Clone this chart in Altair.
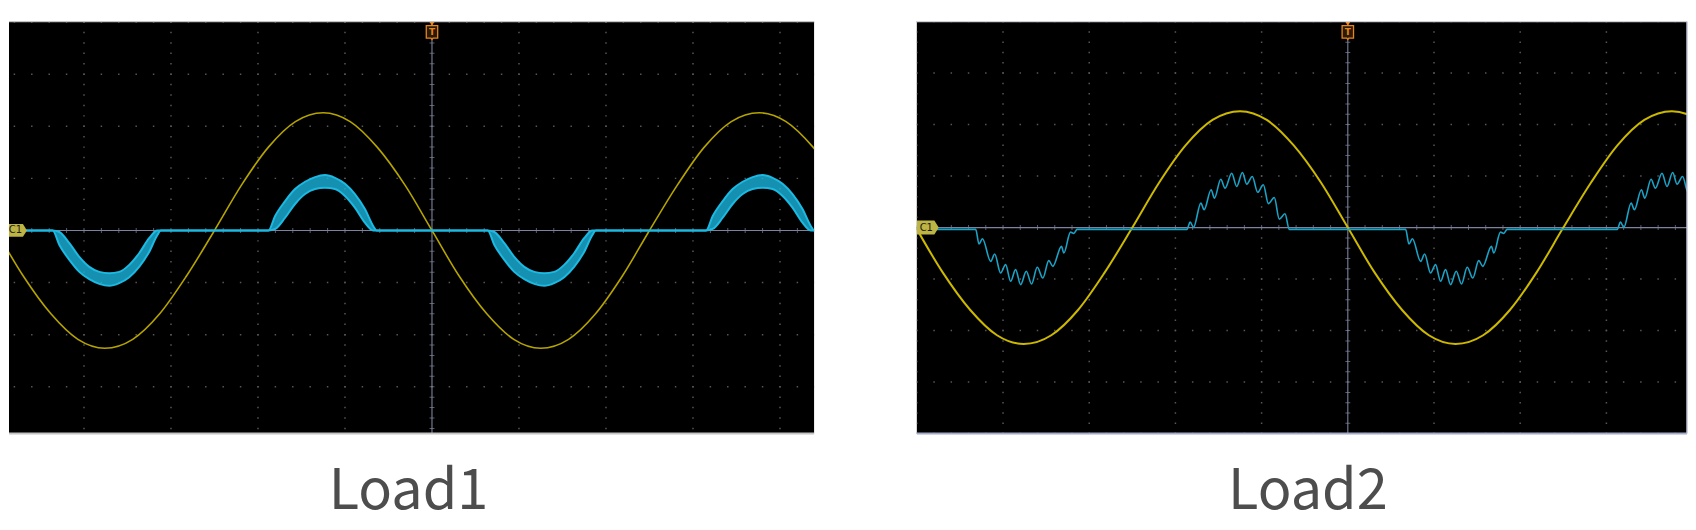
import altair as alt
import pandas as pd

# ---------------- values (units: screen divisions) ----------------
# yellow voltage trace (same timebase in both captures); x = divisions from trigger
yellow_x = [-5.01, -4.70, -4.38, -4.07, -3.76, -3.44, -3.13, -2.82, -2.50, -2.19, -1.88,
            -1.57, -1.25, -0.94, -0.63, -0.31, 0.0, 0.31, 0.63, 0.94, 1.25, 1.57, 1.88,
            2.19, 2.50, 2.82, 3.13, 3.44, 3.76, 4.07, 4.38, 4.70]
yellow_y = [0.0, -0.87, -1.60, -2.09, -2.26, -2.09, -1.60, -0.87, 0.0, 0.87, 1.60, 2.09,
            2.26, 2.09, 1.60, 0.87, 0.0, -0.87, -1.60, -2.09, -2.26, -2.09, -1.60, -0.87,
            0.0, 0.87, 1.60, 2.09, 2.26, 2.09, 1.60, 0.87]

# Load1 current: dense ripple band, upper / lower envelope of one pulse
load1_pulse_off = [0.0, 0.077, 0.192, 0.306, 0.421, 0.536, 0.650, 0.765, 0.880, 0.994, 1.109, 1.204, 1.243]
load1_pulse_hi = [0.0, 0.278, 0.565, 0.795, 0.935, 1.025, 1.063, 1.011, 0.897, 0.699, 0.412, 0.086, 0.0]
load1_pulse_lo = [0.0, 0.029, 0.245, 0.508, 0.699, 0.795, 0.820, 0.795, 0.661, 0.437, 0.149, 0.0, 0.0]
load1_pulse_start = [-4.36, -1.88, 0.64, 3.15]
load1_pulse_sign = [-1, 1, -1, 1]

# Load2 current: resolved ripple (peaks and troughs) of a positive and a negative pulse
load2_pos_off = [0.000, 0.038, 0.077, 0.162, 0.200, 0.281, 0.320, 0.393, 0.443, 0.520, 0.578,
                 0.644, 0.694, 0.759, 0.821, 0.887, 0.945, 1.014, 1.072, 1.138, 1.188]
load2_pos_val = [0.0, 0.142, 0.039, 0.510, 0.382, 0.769, 0.607, 0.975, 0.801, 1.091, 0.834,
                 1.105, 0.879, 1.027, 0.720, 0.866, 0.500, 0.620, 0.200, 0.304, 0.0]
load2_neg_off = [0.000, 0.038, 0.078, 0.174, 0.220, 0.289, 0.347, 0.405, 0.463, 0.521, 0.587,
                 0.648, 0.714, 0.779, 0.848, 0.895, 0.995, 1.022, 1.100, 1.138, 1.177]
load2_neg_val = [0.0, -0.284, -0.181, -0.620, -0.478, -0.846, -0.684, -1.007, -0.781, -1.072,
                 -0.814, -1.060, -0.736, -0.944, -0.607, -0.717, -0.329, -0.459, -0.052, -0.077, 0.0]
load2_pulse_start = [-4.317, -1.867, 0.671, 3.125]
load2_pulse_sign = [-1, 1, -1, 1]
load2_base = -0.035

titles = ["Load1", "Load2"]
channel_label = "C1"
trigger_label = "T"

# ---------------- tables ----------------
yellow_df = pd.DataFrame({"t": yellow_x, "v": yellow_y})

rows = [(-6.0, 0.0, 0.0)]
for s, sg in zip(load1_pulse_start, load1_pulse_sign):
    for o, h, l in zip(load1_pulse_off, load1_pulse_hi, load1_pulse_lo):
        rows.append((s + o, sg * h, sg * l))
rows.append((6.0, 0.0, 0.0))
load1_df = pd.DataFrame(rows, columns=["t", "hi", "lo"])
load1_long = load1_df.melt(id_vars="t", value_vars=["hi", "lo"], var_name="edge", value_name="v")

rows = [(-6.0, load2_base)]
for s, sg in zip(load2_pulse_start, load2_pulse_sign):
    offs, vals = (load2_pos_off, load2_pos_val) if sg > 0 else (load2_neg_off, load2_neg_val)
    for o, v in zip(offs, vals):
        rows.append((s + o, load2_base + v))
rows.append((6.0, load2_base))
load2_df = pd.DataFrame(rows, columns=["t", "v"])

dots = []
for gx in range(-5, 6):
    if gx != 0:
        for k in range(-20, 21):
            dots.append((gx, k / 5))
for gy in range(-4, 5):
    if gy != 0:
        for k in range(-25, 26):
            dots.append((k / 5, gy))
dots_df = pd.DataFrame(dots, columns=["t", "v"])
hticks_df = pd.DataFrame({"t": [k / 5 for k in range(-25, 26)], "v": 0.0})
vticks_df = pd.DataFrame({"t": 0.0, "v": [k / 5 for k in range(-20, 21)]})

ORANGE = "#e8841c"
CENTER = "#7d839e"
C1_PATH = "M-1,-0.636L0.6,-0.636L1,0L0.6,0.636L-1,0.636Z"
TAG_PATH = "M-0.83,-1L0.83,-1L0.83,0.8L0.15,0.8L0,1L-0.15,0.8L-0.83,0.8Z"


def panel(xdom, ydom, w, h, title, dx, ycol, ywidth, current_layers, c1x, c1size,
          top_col, bot_col, right_col):
    xs = alt.Scale(domain=xdom, nice=False, zero=False)
    ys = alt.Scale(domain=ydom, nice=False, zero=False)
    X = alt.X("t:Q", scale=xs, axis=None)
    Y = alt.Y("v:Q", scale=ys, axis=None)
    X0 = alt.XDatum(0, scale=xs, axis=None)
    Y0 = alt.YDatum(0, scale=ys, axis=None)

    grid = alt.Chart(dots_df).mark_square(size=2.2, color="#575757", opacity=1, clip=True).encode(x=X, y=Y)
    vline = alt.Chart().mark_rule(color=CENTER, strokeWidth=1.1).encode(x=X0)
    hline = alt.Chart().mark_rule(color=CENTER, strokeWidth=1.1).encode(y=Y0)
    hticks = alt.Chart(hticks_df).mark_tick(orient="vertical", size=5, thickness=1, color=CENTER, clip=True).encode(x=X, y=Y)
    vticks = alt.Chart(vticks_df).mark_tick(orient="horizontal", size=5, thickness=1, color=CENTER, clip=True).encode(x=X, y=Y)
    yel = alt.Chart(yellow_df).mark_line(color=ycol, strokeWidth=ywidth, interpolate="monotone", clip=True).encode(x=X, y=Y)

    cur = current_layers(X, Y, xs, ys)

    c1 = alt.Chart().mark_point(shape=C1_PATH, size=c1size, filled=True, color="#bdb443", opacity=1, clip=True).encode(
        x=alt.value(c1x), y=Y0)
    c1t = alt.Chart().mark_text(text=channel_label, fontSize=10, font="DejaVu Sans", color="#1a1a1a").encode(
        x=alt.value(c1x - 1.5), y=Y0)
    tri = alt.Chart().mark_point(shape="triangle-down", size=30, filled=True, color=ORANGE, opacity=1).encode(
        x=X0, y=alt.value(2))
    tag = alt.Chart().mark_point(shape=TAG_PATH, size=190, fill="#2a1a08", fillOpacity=1, stroke=ORANGE,
                                 strokeWidth=1.3, opacity=1).encode(x=X0, y=alt.value(11))
    tagt = alt.Chart().mark_text(text=trigger_label, fontSize=9, font="DejaVu Sans", fontWeight="bold",
                                 color=ORANGE).encode(x=X0, y=alt.value(10.5))

    top_b = alt.Chart().mark_rule(color=top_col, strokeWidth=1.2).encode(
        x=alt.value(0), x2=alt.value(w), y=alt.value(0))
    bot_b = alt.Chart().mark_rule(color=bot_col, strokeWidth=2).encode(
        x=alt.value(0), x2=alt.value(w), y=alt.value(h))
    layers = [grid, vline, hline, hticks, vticks, yel, *cur, c1, c1t, tri, tag, tagt, top_b, bot_b]
    if right_col:
        layers.append(alt.Chart().mark_rule(color=right_col, strokeWidth=1.5).encode(
            x=alt.value(w), y=alt.value(0), y2=alt.value(h)))

    return alt.layer(*layers).properties(
        width=w, height=h,
        title=alt.TitleParams(title, orient="bottom", anchor="middle", fontSize=56, font="Noto Sans CJK SC",
                              color="#4d4d4d", fontWeight="normal", offset=31, dx=dx, baseline="top"),
    )


def load1_layers(X, Y, xs, ys):
    band = alt.Chart(load1_df).mark_area(color="#1ab4dc", opacity=0.8, interpolate="monotone", clip=True).encode(
        x=alt.X("t:Q", scale=xs, axis=None), y=alt.Y("hi:Q", scale=ys, axis=None), y2="lo:Q")
    edges = alt.Chart(load1_long).mark_line(color="#1cb9e2", strokeWidth=2, interpolate="monotone", clip=True).encode(
        x=X, y=Y, detail="edge:N")
    return [band, edges]


def load2_layers(X, Y, xs, ys):
    line = alt.Chart(load2_df).mark_line(color="#1aa3c6", strokeWidth=1.6, interpolate="monotone", clip=True).encode(
        x=X, y=Y)
    return [line]


p1 = panel([-4.862, 4.392], [-3.90, 4.01], 807, 413, titles[0], -3, "#b5a300", 1.6, load1_layers, 8, 400,
           "#c4c4c4", "#c4c4c4", None)
p2 = panel([-5.0, 3.935], [-4.0, 4.0], 772, 413, titles[1], 6, "#cdb800", 2.0, load2_layers, 11, 484,
           "#d0d0d8", "#a3abc8", "#c0c4d4")

chart = alt.hconcat(p1, p2, spacing=101).resolve_scale(x="independent", y="independent").properties(
    padding={"left": 0, "top": 12, "right": 0, "bottom": 8}, background="white"
).configure_view(fill="black", strokeWidth=0)

chart.save("out.html", embed_options={"renderer": "svg", "actions": False})
